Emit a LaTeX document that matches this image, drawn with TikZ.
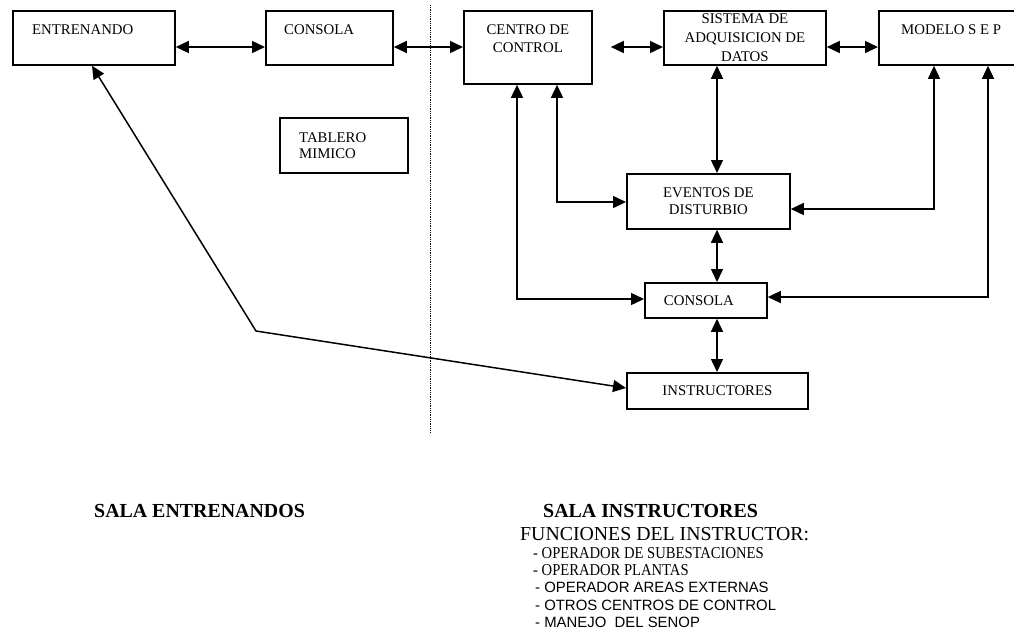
\documentclass[tikz,border=0pt]{standalone}
\usepackage{fontspec}
\setmainfont{Liberation Serif}
\setsansfont{Liberation Sans}
\usetikzlibrary{arrows.meta}
\newcommand{\boxfont}{\fontsize{14.8}{17.5}\selectfont}
\newcommand{\headfont}{\fontsize{19.9}{22}\selectfont\bfseries}
\newcommand{\listfont}{\fontsize{16.6}{17}\selectfont}
\newcommand{\listsans}{\sffamily\fontsize{14.9}{17}\selectfont}
\newcommand{\narrow}[1]{\scalebox{0.88}[1]{#1}}

\begin{document}
\begin{tikzpicture}[x=1pt, y=-1pt,
  blk/.style={draw, line width=1.8pt, inner sep=0pt, anchor=north west},
  lbl/.style={font=\boxfont, inner sep=0pt, align=center},
  bi/.style={line width=1.5pt,
    {Triangle[length=13pt,width=12pt]}-{Triangle[length=13pt,width=12pt]}},
  txt/.style={inner sep=0pt, anchor=west},
  divider/.style={line width=0.9pt, dash pattern=on 0.9pt off 0.9pt},
]
\useasboundingbox (0,0) rectangle (1014,630);

% ---- Boxes ----
\node[blk, minimum width=162pt, minimum height=54pt] (entr)  at (12,10)  {};
\node[blk, minimum width=127pt, minimum height=54pt] (cons1) at (265,10) {};
\node[blk, minimum width=128pt, minimum height=73pt] (ctrl)  at (463,10) {};
\node[blk, lbl, minimum width=162pt, minimum height=54pt] (sad) at (663,10)
  {SISTEMA DE\\[1.5pt]ADQUISICION DE\\[1.5pt]DATOS};
\node[blk, minimum width=140pt, minimum height=54pt] (sep)   at (878,10) {};
\node[blk, minimum width=128pt, minimum height=55pt] (tab)   at (279,117) {};
\node[blk, lbl, minimum width=163pt, minimum height=55pt] (ev) at (626,173)
  {EVENTOS DE\\DISTURBIO};
\node[blk, minimum width=122pt, minimum height=35pt] (cons2) at (644,282) {};
\node[blk, lbl, minimum width=181pt, minimum height=36pt] (instr) at (626,372)
  {INSTRUCTORES};

% ---- Texts placed off centre in their boxes ----
\node[lbl, anchor=west] (entrT)  at ([shift={(20,20)}]entr.north west)  {ENTRENANDO};
\node[lbl, anchor=west] (cons1T) at ([shift={(19,20)}]cons1.north west) {CONSOLA};
\node[lbl]              (ctrlT)  at ([shift={(0,28.5)}]ctrl.north)      {CENTRO DE\\CONTROL};
\node[lbl, anchor=west] (sepT)   at ([shift={(23,20)}]sep.north west)   {MODELO S E P};
\node[lbl, anchor=west, align=left, font=\fontsize{14.8}{16.5}\selectfont]
                        (tabT)   at ([shift={(20,0.5)}]tab.west)        {TABLERO\\MIMICO};
\node[lbl]              (cons2T) at ([shift={(-7,0)}]cons2.center)      {CONSOLA};

% ---- Divider between the two rooms ----
\coordinate (divTop) at (430,5);
\coordinate (divBot) at (430,432);
\draw[divider] (divTop) -- (divBot);

% ---- Guide rows and columns for the connectors ----
\coordinate (rowA)  at (0,47);
\coordinate (rowE1) at (0,202);
\coordinate (rowE2) at (0,209);
\coordinate (rowC1) at (0,299);
\coordinate (rowC2) at (0,297);
\coordinate (rowI)  at (0,388);
\coordinate (colA)  at (517,0);
\coordinate (colB)  at (557,0);
\coordinate (colM)  at (717,0);
\coordinate (colC)  at (934,0);
\coordinate (colD)  at (988,0);
\coordinate (bend)  at (256,331);

% ---- Top row ----
\draw[bi] (entr.east |- rowA)  -- (cons1.west |- rowA);
\draw[bi] (cons1.east |- rowA) -- (ctrl.west |- rowA);
\draw[bi, shorten <=18pt] (ctrl.east |- rowA) -- (sad.west |- rowA);
\draw[bi] (sad.east |- rowA)   -- (sep.west |- rowA);

% ---- Column under the acquisition system ----
\draw[bi] (sad.south -| colM)   -- (ev.north -| colM);
\draw[bi] (ev.south -| colM)    -- (cons2.north -| colM);
\draw[bi] (cons2.south -| colM) -- (instr.north -| colM);

% ---- Side loops ----
\draw[bi] (ctrl.south -| colB) |- (ev.west |- rowE1);
\draw[bi] (ctrl.south -| colA) |- (cons2.west |- rowC1);
\draw[bi] (sep.south -| colC)  |- (ev.east |- rowE2);
\draw[bi] (sep.south -| colD)  |- (cons2.east |- rowC2);

% ---- Trainee link across the rooms ----
\draw[bi] ([xshift=80pt]entr.south west) -- (bend) -- (instr.west |- rowI);

% ---- Room captions ----
\node[txt, font=\headfont] (salaE) at (94,511)  {SALA ENTRENANDOS};
\node[txt, font=\headfont] (salaI) at (543,511) {SALA INSTRUCTORES};
\node[txt, font=\fontsize{19.8}{22}\selectfont] (func) at (520,534.5) {FUNCIONES DEL INSTRUCTOR:};
\node[txt, font=\listfont] (fun1) at (533,553) {\narrow{- OPERADOR DE SUBESTACIONES}};
\node[txt, font=\listfont] (fun2) at (533,570.5) {\narrow{- OPERADOR PLANTAS}};
\foreach \i/\y/\t in {3/587.5/{- OPERADOR AREAS EXTERNAS},
                      4/605/{- OTROS CENTROS DE CONTROL},
                      5/622.5/{- MANEJO\ \ DEL SENOP}}
  \node[txt, font=\listsans] (fun\i) at (535,\y) {\t};
\end{tikzpicture}
\end{document}
